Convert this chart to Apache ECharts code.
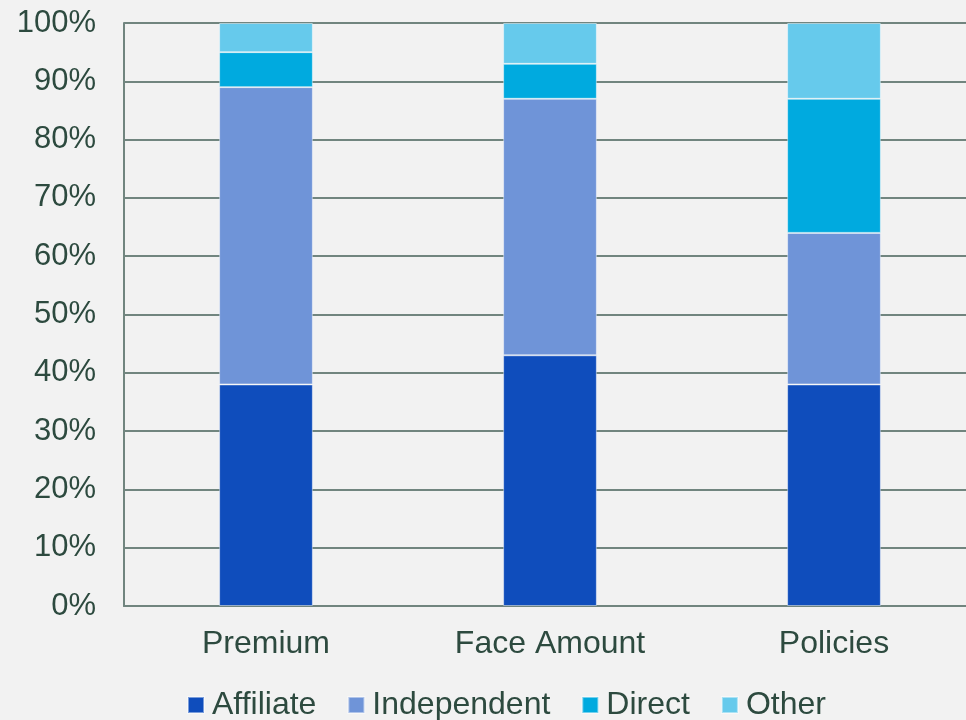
<!DOCTYPE html>
<html>
<head>
<meta charset="utf-8">
<script src="https://cdn.jsdelivr.net/npm/echarts@6/dist/echarts.min.js"></script>
<style>
  html, body { margin: 0; padding: 0; background: #f2f2f2; overflow: hidden; }
  #main { width: 976px; height: 720px; }
</style>
</head>
<body>
<div id="main"></div>
<script>
// categories and shares (%)
var categories = ['Premium', 'Face Amount', 'Policies']
var affiliate = [38, 43, 38]
var independent = [51, 44, 26]
var direct = [6, 6, 23]
var other = [5, 7, 13]

var textColor = '#2d4a3f'
var lineColor = '#71857f'

function makeSeries(name, data, color) {
  return {
    name: name,
    type: 'bar',
    stack: 'total',
    barWidth: '33%',
    data: data,
    itemStyle: {
      color: color,
      borderColor: 'rgba(255,255,255,0.45)',
      borderWidth: 1
    }
  }
}

var chart = echarts.init(document.getElementById('main'))
chart.setOption({
  backgroundColor: '#f2f2f2',
  animation: false,
  textStyle: { fontFamily: 'Liberation Sans, Arial, sans-serif' },
  grid: { left: 124, right: 0, top: 23, bottom: 114, containLabel: false },
  legend: {
    top: 689,
    left: 187,
    padding: 0,
    itemWidth: 16,
    itemHeight: 16,
    itemGap: 31,
    icon: 'rect',
    textStyle: { color: textColor, fontSize: 32, padding: [0, 0, 0, 3] },
    data: ['Affiliate', 'Independent', 'Direct', 'Other']
  },
  xAxis: {
    type: 'category',
    data: categories,
    axisLine: { lineStyle: { color: lineColor, width: 2 } },
    axisTick: { show: false },
    axisLabel: { color: textColor, fontSize: 32, margin: 22 }
  },
  yAxis: {
    type: 'value',
    min: 0,
    max: 100,
    interval: 10,
    axisLine: { show: true, lineStyle: { color: lineColor, width: 2 } },
    axisTick: { show: false },
    splitLine: { lineStyle: { color: lineColor, width: 2 } },
    axisLabel: { color: textColor, fontSize: 31, margin: 28, formatter: '{value}%' }
  },
  series: [
    makeSeries('Affiliate', affiliate, '#0f4dbc'),
    makeSeries('Independent', independent, '#6f94d8'),
    makeSeries('Direct', direct, '#00aadf'),
    makeSeries('Other', other, '#66caec')
  ]
})
</script>
</body>
</html>
